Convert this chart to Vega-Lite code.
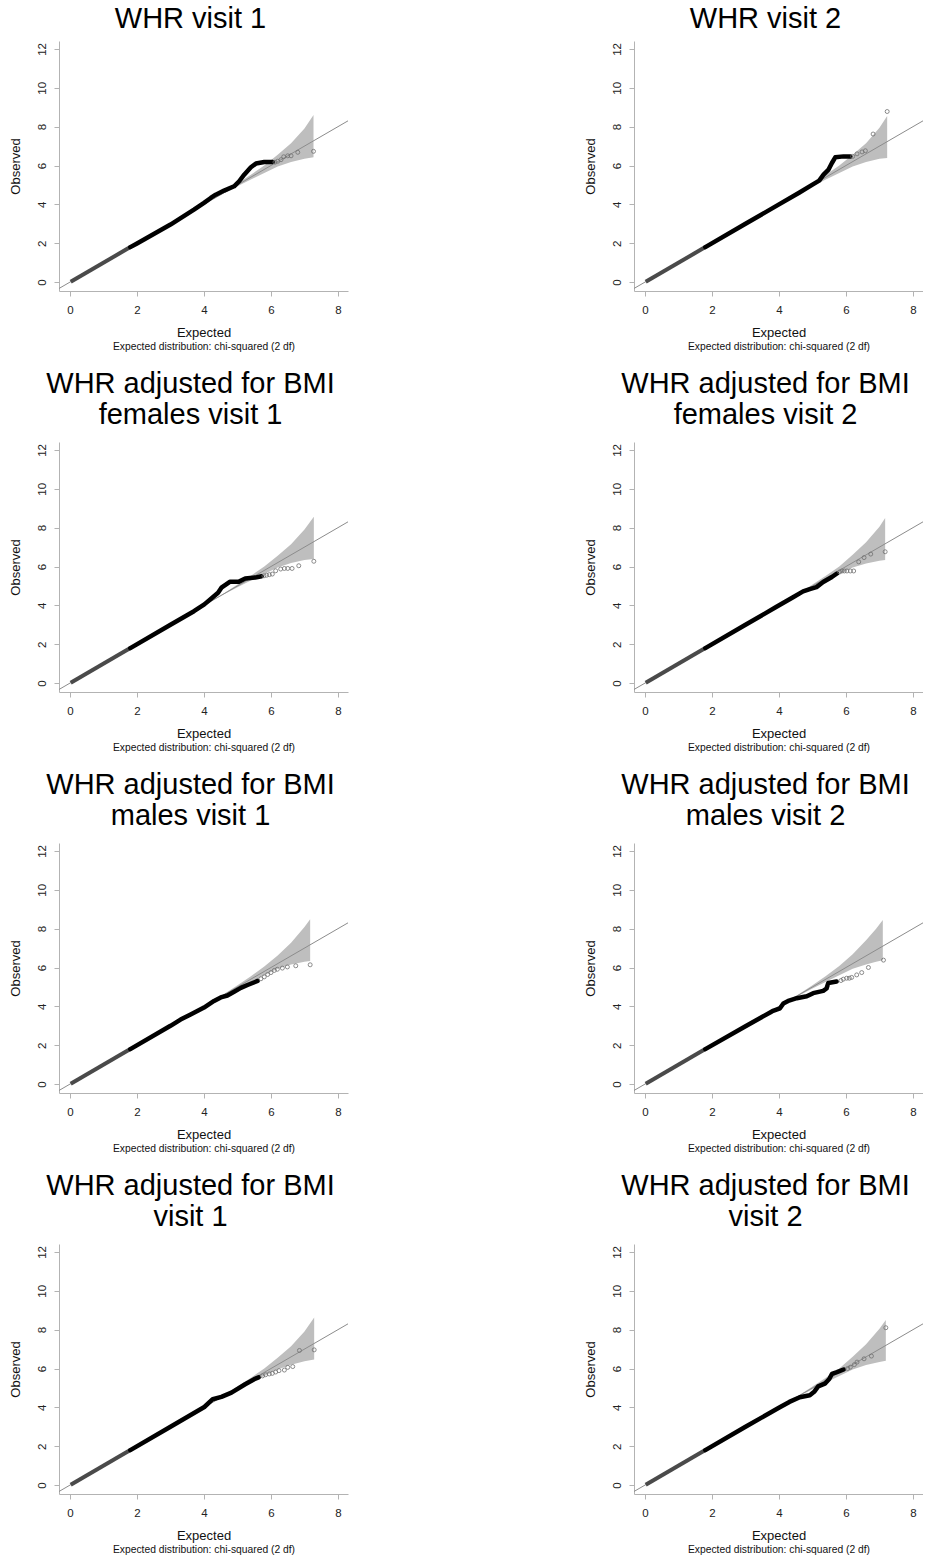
{
  "$schema": "https://vega.github.io/schema/vega-lite/v6.json",
  "background": "white",
  "padding": {"left": 8, "top": 5, "right": 0, "bottom": 0},
  "config": {
    "view": {"stroke": null},
    "font": "Liberation Sans",
    "axis": {
      "grid": false,
      "domainColor": "#b3b3b3",
      "tickColor": "#b3b3b3",
      "tickSize": 5,
      "labelColor": "#222222",
      "labelFont": "Liberation Sans",
      "labelFontSize": 11.5,
      "labelFlush": false,
      "labelOverlap": false,
      "titleFont": "Liberation Sans",
      "titleFontSize": 13,
      "titleFontWeight": "normal",
      "titleColor": "#111111"
    },
    "axisY": {"labelAngle": -90, "labelPadding": 7, "titlePadding": 14},
    "axisX": {"labelPadding": 8, "titlePadding": 11},
    "title": {
      "font": "Liberation Sans",
      "fontSize": 29,
      "fontWeight": "normal",
      "color": "#000000",
      "anchor": "middle",
      "frame": "group",
      "dx": -13,
      "lineHeight": 31,
      "offset": 12
    }
  },
  "datasets": {
    "diag": [{"x": -0.5, "y": -0.5}, {"x": 8.5, "y": 8.5}],
    "start": [{"x": 0.02, "y": 0.02}, {"x": 1.8, "y": 1.8}],
    "qq": [
      {"p": "p1", "k": "band", "x": 4.3, "lo": 4.29, "hi": 4.31},
      {"p": "p1", "k": "band", "x": 4.6, "lo": 4.57, "hi": 4.63},
      {"p": "p1", "k": "band", "x": 5.0, "lo": 4.93, "hi": 5.08},
      {"p": "p1", "k": "band", "x": 5.4, "lo": 5.28, "hi": 5.53},
      {"p": "p1", "k": "band", "x": 5.8, "lo": 5.62, "hi": 6.0},
      {"p": "p1", "k": "band", "x": 6.2, "lo": 5.95, "hi": 6.55},
      {"p": "p1", "k": "band", "x": 6.6, "lo": 6.18, "hi": 7.15},
      {"p": "p1", "k": "band", "x": 7.0, "lo": 6.35, "hi": 7.9},
      {"p": "p1", "k": "band", "x": 7.27, "lo": 6.42, "hi": 8.6},
      {"p": "p2", "k": "band", "x": 4.3, "lo": 4.29, "hi": 4.31},
      {"p": "p2", "k": "band", "x": 4.6, "lo": 4.57, "hi": 4.63},
      {"p": "p2", "k": "band", "x": 5.0, "lo": 4.93, "hi": 5.08},
      {"p": "p2", "k": "band", "x": 5.4, "lo": 5.28, "hi": 5.53},
      {"p": "p2", "k": "band", "x": 5.8, "lo": 5.62, "hi": 6.0},
      {"p": "p2", "k": "band", "x": 6.2, "lo": 5.95, "hi": 6.55},
      {"p": "p2", "k": "band", "x": 6.6, "lo": 6.18, "hi": 7.15},
      {"p": "p2", "k": "band", "x": 7.0, "lo": 6.35, "hi": 7.95},
      {"p": "p2", "k": "band", "x": 7.23, "lo": 6.39, "hi": 8.55},
      {"p": "p3", "k": "band", "x": 4.3, "lo": 4.29, "hi": 4.31},
      {"p": "p3", "k": "band", "x": 4.6, "lo": 4.57, "hi": 4.63},
      {"p": "p3", "k": "band", "x": 5.0, "lo": 4.93, "hi": 5.08},
      {"p": "p3", "k": "band", "x": 5.4, "lo": 5.28, "hi": 5.53},
      {"p": "p3", "k": "band", "x": 5.8, "lo": 5.62, "hi": 6.0},
      {"p": "p3", "k": "band", "x": 6.2, "lo": 5.95, "hi": 6.55},
      {"p": "p3", "k": "band", "x": 6.6, "lo": 6.18, "hi": 7.15},
      {"p": "p3", "k": "band", "x": 7.0, "lo": 6.33, "hi": 7.9},
      {"p": "p3", "k": "band", "x": 7.28, "lo": 6.39, "hi": 8.56},
      {"p": "p4", "k": "band", "x": 4.3, "lo": 4.29, "hi": 4.31},
      {"p": "p4", "k": "band", "x": 4.6, "lo": 4.57, "hi": 4.63},
      {"p": "p4", "k": "band", "x": 5.0, "lo": 4.93, "hi": 5.08},
      {"p": "p4", "k": "band", "x": 5.4, "lo": 5.28, "hi": 5.53},
      {"p": "p4", "k": "band", "x": 5.8, "lo": 5.62, "hi": 6.0},
      {"p": "p4", "k": "band", "x": 6.2, "lo": 5.95, "hi": 6.6},
      {"p": "p4", "k": "band", "x": 6.6, "lo": 6.16, "hi": 7.25},
      {"p": "p4", "k": "band", "x": 7.0, "lo": 6.3, "hi": 8.05},
      {"p": "p4", "k": "band", "x": 7.17, "lo": 6.33, "hi": 8.5},
      {"p": "p5", "k": "band", "x": 4.0, "lo": 3.99, "hi": 4.01},
      {"p": "p5", "k": "band", "x": 4.6, "lo": 4.56, "hi": 4.64},
      {"p": "p5", "k": "band", "x": 5.0, "lo": 4.92, "hi": 5.09},
      {"p": "p5", "k": "band", "x": 5.4, "lo": 5.27, "hi": 5.55},
      {"p": "p5", "k": "band", "x": 5.8, "lo": 5.6, "hi": 6.05},
      {"p": "p5", "k": "band", "x": 6.2, "lo": 5.93, "hi": 6.62},
      {"p": "p5", "k": "band", "x": 6.6, "lo": 6.15, "hi": 7.28},
      {"p": "p5", "k": "band", "x": 7.0, "lo": 6.3, "hi": 8.08},
      {"p": "p5", "k": "band", "x": 7.17, "lo": 6.34, "hi": 8.49},
      {"p": "p6", "k": "band", "x": 4.0, "lo": 3.99, "hi": 4.01},
      {"p": "p6", "k": "band", "x": 4.6, "lo": 4.56, "hi": 4.64},
      {"p": "p6", "k": "band", "x": 5.0, "lo": 4.92, "hi": 5.09},
      {"p": "p6", "k": "band", "x": 5.4, "lo": 5.27, "hi": 5.56},
      {"p": "p6", "k": "band", "x": 5.8, "lo": 5.6, "hi": 6.08},
      {"p": "p6", "k": "band", "x": 6.2, "lo": 5.93, "hi": 6.68},
      {"p": "p6", "k": "band", "x": 6.6, "lo": 6.15, "hi": 7.4},
      {"p": "p6", "k": "band", "x": 6.9, "lo": 6.3, "hi": 8.0},
      {"p": "p6", "k": "band", "x": 7.1, "lo": 6.38, "hi": 8.45},
      {"p": "p7", "k": "band", "x": 4.3, "lo": 4.29, "hi": 4.31},
      {"p": "p7", "k": "band", "x": 4.6, "lo": 4.57, "hi": 4.63},
      {"p": "p7", "k": "band", "x": 5.0, "lo": 4.93, "hi": 5.08},
      {"p": "p7", "k": "band", "x": 5.4, "lo": 5.28, "hi": 5.53},
      {"p": "p7", "k": "band", "x": 5.8, "lo": 5.62, "hi": 6.0},
      {"p": "p7", "k": "band", "x": 6.2, "lo": 5.95, "hi": 6.55},
      {"p": "p7", "k": "band", "x": 6.6, "lo": 6.2, "hi": 7.15},
      {"p": "p7", "k": "band", "x": 7.0, "lo": 6.38, "hi": 7.9},
      {"p": "p7", "k": "band", "x": 7.29, "lo": 6.46, "hi": 8.62},
      {"p": "p8", "k": "band", "x": 4.3, "lo": 4.29, "hi": 4.31},
      {"p": "p8", "k": "band", "x": 4.6, "lo": 4.57, "hi": 4.63},
      {"p": "p8", "k": "band", "x": 5.0, "lo": 4.93, "hi": 5.08},
      {"p": "p8", "k": "band", "x": 5.4, "lo": 5.28, "hi": 5.53},
      {"p": "p8", "k": "band", "x": 5.8, "lo": 5.62, "hi": 6.0},
      {"p": "p8", "k": "band", "x": 6.2, "lo": 5.95, "hi": 6.6},
      {"p": "p8", "k": "band", "x": 6.6, "lo": 6.18, "hi": 7.25},
      {"p": "p8", "k": "band", "x": 7.0, "lo": 6.33, "hi": 8.05},
      {"p": "p8", "k": "band", "x": 7.19, "lo": 6.4, "hi": 8.5},

      {"p": "p1", "k": "line", "x": 1.8, "y": 1.8},
      {"p": "p1", "k": "line", "x": 2.0, "y": 1.99},
      {"p": "p1", "k": "line", "x": 3.0, "y": 2.96},
      {"p": "p1", "k": "line", "x": 3.7, "y": 3.73},
      {"p": "p1", "k": "line", "x": 4.0, "y": 4.08},
      {"p": "p1", "k": "line", "x": 4.2, "y": 4.33},
      {"p": "p1", "k": "line", "x": 4.35, "y": 4.5},
      {"p": "p1", "k": "line", "x": 4.6, "y": 4.71},
      {"p": "p1", "k": "line", "x": 4.9, "y": 4.93},
      {"p": "p1", "k": "line", "x": 5.05, "y": 5.19},
      {"p": "p1", "k": "line", "x": 5.2, "y": 5.53},
      {"p": "p1", "k": "line", "x": 5.4, "y": 5.91},
      {"p": "p1", "k": "line", "x": 5.55, "y": 6.1},
      {"p": "p1", "k": "line", "x": 5.8, "y": 6.18},
      {"p": "p1", "k": "line", "x": 6.05, "y": 6.18},
      {"p": "p1", "k": "pt", "x": 6.12, "y": 6.17},
      {"p": "p1", "k": "pt", "x": 6.2, "y": 6.22},
      {"p": "p1", "k": "pt", "x": 6.3, "y": 6.3},
      {"p": "p1", "k": "pt", "x": 6.38, "y": 6.45},
      {"p": "p1", "k": "pt", "x": 6.5, "y": 6.5},
      {"p": "p1", "k": "pt", "x": 6.6, "y": 6.5},
      {"p": "p1", "k": "pt", "x": 6.8, "y": 6.68},
      {"p": "p1", "k": "pt", "x": 7.27, "y": 6.73},

      {"p": "p2", "k": "line", "x": 1.8, "y": 1.8},
      {"p": "p2", "k": "line", "x": 3.0, "y": 3.0},
      {"p": "p2", "k": "line", "x": 4.0, "y": 4.0},
      {"p": "p2", "k": "line", "x": 4.6, "y": 4.6},
      {"p": "p2", "k": "line", "x": 5.0, "y": 5.02},
      {"p": "p2", "k": "line", "x": 5.2, "y": 5.22},
      {"p": "p2", "k": "line", "x": 5.33, "y": 5.53},
      {"p": "p2", "k": "line", "x": 5.48, "y": 5.79},
      {"p": "p2", "k": "line", "x": 5.58, "y": 6.13},
      {"p": "p2", "k": "line", "x": 5.68, "y": 6.42},
      {"p": "p2", "k": "line", "x": 5.93, "y": 6.47},
      {"p": "p2", "k": "line", "x": 6.13, "y": 6.47},
      {"p": "p2", "k": "pt", "x": 6.2, "y": 6.47},
      {"p": "p2", "k": "pt", "x": 6.33, "y": 6.6},
      {"p": "p2", "k": "pt", "x": 6.48, "y": 6.7},
      {"p": "p2", "k": "pt", "x": 6.58, "y": 6.76},
      {"p": "p2", "k": "pt", "x": 6.81, "y": 7.62},
      {"p": "p2", "k": "pt", "x": 7.23, "y": 8.78},

      {"p": "p3", "k": "line", "x": 1.8, "y": 1.8},
      {"p": "p3", "k": "line", "x": 3.0, "y": 3.0},
      {"p": "p3", "k": "line", "x": 3.7, "y": 3.7},
      {"p": "p3", "k": "line", "x": 4.01, "y": 4.05},
      {"p": "p3", "k": "line", "x": 4.21, "y": 4.34},
      {"p": "p3", "k": "line", "x": 4.42, "y": 4.65},
      {"p": "p3", "k": "line", "x": 4.52, "y": 4.91},
      {"p": "p3", "k": "line", "x": 4.77, "y": 5.21},
      {"p": "p3", "k": "line", "x": 5.03, "y": 5.21},
      {"p": "p3", "k": "line", "x": 5.23, "y": 5.38},
      {"p": "p3", "k": "line", "x": 5.53, "y": 5.43},
      {"p": "p3", "k": "line", "x": 5.72, "y": 5.5},
      {"p": "p3", "k": "pt", "x": 5.79, "y": 5.52},
      {"p": "p3", "k": "pt", "x": 5.87, "y": 5.55},
      {"p": "p3", "k": "pt", "x": 5.95, "y": 5.58},
      {"p": "p3", "k": "pt", "x": 6.04, "y": 5.61},
      {"p": "p3", "k": "pt", "x": 6.14, "y": 5.78},
      {"p": "p3", "k": "pt", "x": 6.29, "y": 5.87},
      {"p": "p3", "k": "pt", "x": 6.4, "y": 5.9},
      {"p": "p3", "k": "pt", "x": 6.5, "y": 5.9},
      {"p": "p3", "k": "pt", "x": 6.63, "y": 5.9},
      {"p": "p3", "k": "pt", "x": 6.83, "y": 6.04},
      {"p": "p3", "k": "pt", "x": 7.28, "y": 6.27},

      {"p": "p4", "k": "line", "x": 1.8, "y": 1.8},
      {"p": "p4", "k": "line", "x": 3.0, "y": 3.0},
      {"p": "p4", "k": "line", "x": 3.9, "y": 3.9},
      {"p": "p4", "k": "line", "x": 4.42, "y": 4.42},
      {"p": "p4", "k": "line", "x": 4.72, "y": 4.72},
      {"p": "p4", "k": "line", "x": 4.92, "y": 4.84},
      {"p": "p4", "k": "line", "x": 5.12, "y": 4.94},
      {"p": "p4", "k": "line", "x": 5.32, "y": 5.2},
      {"p": "p4", "k": "line", "x": 5.58, "y": 5.46},
      {"p": "p4", "k": "line", "x": 5.73, "y": 5.64},
      {"p": "p4", "k": "pt", "x": 5.81, "y": 5.72},
      {"p": "p4", "k": "pt", "x": 5.88, "y": 5.77},
      {"p": "p4", "k": "pt", "x": 5.95, "y": 5.77},
      {"p": "p4", "k": "pt", "x": 6.03, "y": 5.77},
      {"p": "p4", "k": "pt", "x": 6.13, "y": 5.77},
      {"p": "p4", "k": "pt", "x": 6.23, "y": 5.77},
      {"p": "p4", "k": "pt", "x": 6.38, "y": 6.24},
      {"p": "p4", "k": "pt", "x": 6.54, "y": 6.46},
      {"p": "p4", "k": "pt", "x": 6.74, "y": 6.64},
      {"p": "p4", "k": "pt", "x": 7.17, "y": 6.76},

      {"p": "p5", "k": "line", "x": 1.8, "y": 1.8},
      {"p": "p5", "k": "line", "x": 3.0, "y": 3.0},
      {"p": "p5", "k": "line", "x": 3.3, "y": 3.32},
      {"p": "p5", "k": "line", "x": 3.6, "y": 3.58},
      {"p": "p5", "k": "line", "x": 4.0, "y": 3.94},
      {"p": "p5", "k": "line", "x": 4.3, "y": 4.28},
      {"p": "p5", "k": "line", "x": 4.5, "y": 4.46},
      {"p": "p5", "k": "line", "x": 4.7, "y": 4.56},
      {"p": "p5", "k": "line", "x": 4.9, "y": 4.75},
      {"p": "p5", "k": "line", "x": 5.1, "y": 4.95},
      {"p": "p5", "k": "line", "x": 5.3, "y": 5.1},
      {"p": "p5", "k": "line", "x": 5.6, "y": 5.31},
      {"p": "p5", "k": "pt", "x": 5.7, "y": 5.42},
      {"p": "p5", "k": "pt", "x": 5.8, "y": 5.52},
      {"p": "p5", "k": "pt", "x": 5.9, "y": 5.64},
      {"p": "p5", "k": "pt", "x": 6.0, "y": 5.74},
      {"p": "p5", "k": "pt", "x": 6.1, "y": 5.85},
      {"p": "p5", "k": "pt", "x": 6.19, "y": 5.91},
      {"p": "p5", "k": "pt", "x": 6.34, "y": 5.97},
      {"p": "p5", "k": "pt", "x": 6.49, "y": 6.03},
      {"p": "p5", "k": "pt", "x": 6.74, "y": 6.09},
      {"p": "p5", "k": "pt", "x": 7.17, "y": 6.14},

      {"p": "p6", "k": "line", "x": 1.8, "y": 1.8},
      {"p": "p6", "k": "line", "x": 3.0, "y": 2.98},
      {"p": "p6", "k": "line", "x": 3.8, "y": 3.75},
      {"p": "p6", "k": "line", "x": 4.03, "y": 3.9},
      {"p": "p6", "k": "line", "x": 4.13, "y": 4.15},
      {"p": "p6", "k": "line", "x": 4.3, "y": 4.3},
      {"p": "p6", "k": "line", "x": 4.53, "y": 4.42},
      {"p": "p6", "k": "line", "x": 4.83, "y": 4.52},
      {"p": "p6", "k": "line", "x": 5.02, "y": 4.68},
      {"p": "p6", "k": "line", "x": 5.32, "y": 4.8},
      {"p": "p6", "k": "line", "x": 5.42, "y": 4.92},
      {"p": "p6", "k": "line", "x": 5.47, "y": 5.2},
      {"p": "p6", "k": "line", "x": 5.72, "y": 5.28},
      {"p": "p6", "k": "pt", "x": 5.85, "y": 5.33},
      {"p": "p6", "k": "pt", "x": 5.92, "y": 5.4},
      {"p": "p6", "k": "pt", "x": 6.02, "y": 5.45},
      {"p": "p6", "k": "pt", "x": 6.1, "y": 5.45},
      {"p": "p6", "k": "pt", "x": 6.17, "y": 5.49},
      {"p": "p6", "k": "pt", "x": 6.32, "y": 5.62},
      {"p": "p6", "k": "pt", "x": 6.47, "y": 5.74},
      {"p": "p6", "k": "pt", "x": 6.67, "y": 6.0},
      {"p": "p6", "k": "pt", "x": 7.12, "y": 6.38},

      {"p": "p7", "k": "line", "x": 1.8, "y": 1.8},
      {"p": "p7", "k": "line", "x": 3.0, "y": 3.0},
      {"p": "p7", "k": "line", "x": 4.01, "y": 4.02},
      {"p": "p7", "k": "line", "x": 4.26, "y": 4.42},
      {"p": "p7", "k": "line", "x": 4.52, "y": 4.54},
      {"p": "p7", "k": "line", "x": 4.82, "y": 4.76},
      {"p": "p7", "k": "line", "x": 5.23, "y": 5.19},
      {"p": "p7", "k": "line", "x": 5.5, "y": 5.45},
      {"p": "p7", "k": "line", "x": 5.63, "y": 5.54},
      {"p": "p7", "k": "pt", "x": 5.75, "y": 5.62},
      {"p": "p7", "k": "pt", "x": 5.84, "y": 5.68},
      {"p": "p7", "k": "pt", "x": 5.95, "y": 5.72},
      {"p": "p7", "k": "pt", "x": 6.04, "y": 5.75},
      {"p": "p7", "k": "pt", "x": 6.14, "y": 5.82},
      {"p": "p7", "k": "pt", "x": 6.24, "y": 5.89},
      {"p": "p7", "k": "pt", "x": 6.4, "y": 5.92},
      {"p": "p7", "k": "pt", "x": 6.5, "y": 6.06},
      {"p": "p7", "k": "pt", "x": 6.65, "y": 6.1},
      {"p": "p7", "k": "pt", "x": 6.85, "y": 6.93},
      {"p": "p7", "k": "pt", "x": 7.29, "y": 6.96},

      {"p": "p8", "k": "line", "x": 1.8, "y": 1.8},
      {"p": "p8", "k": "line", "x": 3.0, "y": 3.0},
      {"p": "p8", "k": "line", "x": 4.01, "y": 3.99},
      {"p": "p8", "k": "line", "x": 4.31, "y": 4.28},
      {"p": "p8", "k": "line", "x": 4.62, "y": 4.52},
      {"p": "p8", "k": "line", "x": 4.92, "y": 4.62},
      {"p": "p8", "k": "line", "x": 5.05, "y": 4.8},
      {"p": "p8", "k": "line", "x": 5.17, "y": 5.08},
      {"p": "p8", "k": "line", "x": 5.37, "y": 5.22},
      {"p": "p8", "k": "line", "x": 5.5, "y": 5.46},
      {"p": "p8", "k": "line", "x": 5.58, "y": 5.72},
      {"p": "p8", "k": "line", "x": 5.73, "y": 5.81},
      {"p": "p8", "k": "line", "x": 5.93, "y": 5.95},
      {"p": "p8", "k": "pt", "x": 6.05, "y": 6.0},
      {"p": "p8", "k": "pt", "x": 6.13, "y": 6.07},
      {"p": "p8", "k": "pt", "x": 6.25, "y": 6.2},
      {"p": "p8", "k": "pt", "x": 6.33, "y": 6.33},
      {"p": "p8", "k": "pt", "x": 6.54, "y": 6.5},
      {"p": "p8", "k": "pt", "x": 6.76, "y": 6.64},
      {"p": "p8", "k": "pt", "x": 7.19, "y": 8.1}
    ]
  },
  "spacing": 18,
  "vconcat": [
    {
      "spacing": 235,
      "hconcat": [
        {
          "title": {"text": "WHR visit 1", "offset": 7},
          "width": 289, "height": 250,
          "resolve": {"axis": {"x": "independent"}},
          "layer": [
            {"data": {"name": "qq"}, "transform": [{"filter": "datum.p === 'p1' && datum.k === 'band'"}], "mark": {"type": "area", "color": "#bebebe", "opacity": 1}, "encoding": {"x": {"field": "x", "type": "quantitative", "scale": {"domain": [-0.33, 8.3], "nice": false, "zero": false}, "axis": null}, "y": {"field": "hi", "type": "quantitative", "scale": {"domain": [-0.46, 12.41], "nice": false, "zero": false}, "axis": {"title": "Observed", "values": [0, 2, 4, 6, 8, 10, 12]}}, "y2": {"field": "lo"}}},
            {"data": {"name": "diag"}, "mark": {"type": "line", "color": "#8c8c8c", "strokeWidth": 1, "clip": true}, "encoding": {"x": {"field": "x", "type": "quantitative", "scale": {"domain": [-0.33, 8.3], "nice": false, "zero": false}, "axis": {"orient": "bottom", "title": "Expected distribution: chi-squared (2 df)", "titleFontSize": 10.3, "labels": false, "ticks": false, "domain": false, "titlePadding": 50}}, "y": {"field": "y", "type": "quantitative", "scale": {"domain": [-0.46, 12.41], "nice": false, "zero": false}, "axis": {"title": "Observed", "values": [0, 2, 4, 6, 8, 10, 12]}}}},
            {"data": {"name": "start"}, "mark": {"type": "line", "color": "#4a4a4a", "strokeWidth": 4}, "encoding": {"x": {"field": "x", "type": "quantitative", "axis": null}, "y": {"field": "y", "type": "quantitative", "axis": {"title": "Observed", "values": [0, 2, 4, 6, 8, 10, 12]}}}},
            {"data": {"name": "qq"}, "transform": [{"filter": "datum.p === 'p1' && datum.k === 'line'"}], "mark": {"type": "line", "color": "#000000", "strokeWidth": 4.5, "strokeCap": "round", "strokeJoin": "round"}, "encoding": {"x": {"field": "x", "type": "quantitative", "axis": {"orient": "bottom", "title": "Expected", "values": [0, 2, 4, 6, 8]}}, "y": {"field": "y", "type": "quantitative", "axis": {"title": "Observed", "values": [0, 2, 4, 6, 8, 10, 12]}}}},
            {"data": {"name": "qq"}, "transform": [{"filter": "datum.p === 'p1' && datum.k === 'pt'"}], "mark": {"type": "point", "filled": false, "color": "#707070", "size": 16, "strokeWidth": 0.8, "opacity": 1}, "encoding": {"x": {"field": "x", "type": "quantitative", "axis": null}, "y": {"field": "y", "type": "quantitative", "axis": {"title": "Observed", "values": [0, 2, 4, 6, 8, 10, 12]}}}}
          ]
        },
        {
          "title": {"text": "WHR visit 2", "offset": 7},
          "width": 289, "height": 250,
          "resolve": {"axis": {"x": "independent"}},
          "layer": [
            {"data": {"name": "qq"}, "transform": [{"filter": "datum.p === 'p2' && datum.k === 'band'"}], "mark": {"type": "area", "color": "#bebebe", "opacity": 1}, "encoding": {"x": {"field": "x", "type": "quantitative", "scale": {"domain": [-0.33, 8.3], "nice": false, "zero": false}, "axis": null}, "y": {"field": "hi", "type": "quantitative", "scale": {"domain": [-0.46, 12.41], "nice": false, "zero": false}, "axis": {"title": "Observed", "values": [0, 2, 4, 6, 8, 10, 12]}}, "y2": {"field": "lo"}}},
            {"data": {"name": "diag"}, "mark": {"type": "line", "color": "#8c8c8c", "strokeWidth": 1, "clip": true}, "encoding": {"x": {"field": "x", "type": "quantitative", "scale": {"domain": [-0.33, 8.3], "nice": false, "zero": false}, "axis": {"orient": "bottom", "title": "Expected distribution: chi-squared (2 df)", "titleFontSize": 10.3, "labels": false, "ticks": false, "domain": false, "titlePadding": 50}}, "y": {"field": "y", "type": "quantitative", "scale": {"domain": [-0.46, 12.41], "nice": false, "zero": false}, "axis": {"title": "Observed", "values": [0, 2, 4, 6, 8, 10, 12]}}}},
            {"data": {"name": "start"}, "mark": {"type": "line", "color": "#4a4a4a", "strokeWidth": 4}, "encoding": {"x": {"field": "x", "type": "quantitative", "axis": null}, "y": {"field": "y", "type": "quantitative", "axis": {"title": "Observed", "values": [0, 2, 4, 6, 8, 10, 12]}}}},
            {"data": {"name": "qq"}, "transform": [{"filter": "datum.p === 'p2' && datum.k === 'line'"}], "mark": {"type": "line", "color": "#000000", "strokeWidth": 4.5, "strokeCap": "round", "strokeJoin": "round"}, "encoding": {"x": {"field": "x", "type": "quantitative", "axis": {"orient": "bottom", "title": "Expected", "values": [0, 2, 4, 6, 8]}}, "y": {"field": "y", "type": "quantitative", "axis": {"title": "Observed", "values": [0, 2, 4, 6, 8, 10, 12]}}}},
            {"data": {"name": "qq"}, "transform": [{"filter": "datum.p === 'p2' && datum.k === 'pt'"}], "mark": {"type": "point", "filled": false, "color": "#707070", "size": 16, "strokeWidth": 0.8, "opacity": 1}, "encoding": {"x": {"field": "x", "type": "quantitative", "axis": null}, "y": {"field": "y", "type": "quantitative", "axis": {"title": "Observed", "values": [0, 2, 4, 6, 8, 10, 12]}}}}
          ]
        }
      ]
    },
    {
      "spacing": 235,
      "hconcat": [
        {
          "title": {"text": ["WHR adjusted for BMI", "females visit 1"]},
          "width": 289, "height": 250,
          "resolve": {"axis": {"x": "independent"}},
          "layer": [
            {"data": {"name": "qq"}, "transform": [{"filter": "datum.p === 'p3' && datum.k === 'band'"}], "mark": {"type": "area", "color": "#bebebe", "opacity": 1}, "encoding": {"x": {"field": "x", "type": "quantitative", "scale": {"domain": [-0.33, 8.3], "nice": false, "zero": false}, "axis": null}, "y": {"field": "hi", "type": "quantitative", "scale": {"domain": [-0.46, 12.41], "nice": false, "zero": false}, "axis": {"title": "Observed", "values": [0, 2, 4, 6, 8, 10, 12]}}, "y2": {"field": "lo"}}},
            {"data": {"name": "diag"}, "mark": {"type": "line", "color": "#8c8c8c", "strokeWidth": 1, "clip": true}, "encoding": {"x": {"field": "x", "type": "quantitative", "scale": {"domain": [-0.33, 8.3], "nice": false, "zero": false}, "axis": {"orient": "bottom", "title": "Expected distribution: chi-squared (2 df)", "titleFontSize": 10.3, "labels": false, "ticks": false, "domain": false, "titlePadding": 50}}, "y": {"field": "y", "type": "quantitative", "scale": {"domain": [-0.46, 12.41], "nice": false, "zero": false}, "axis": {"title": "Observed", "values": [0, 2, 4, 6, 8, 10, 12]}}}},
            {"data": {"name": "start"}, "mark": {"type": "line", "color": "#4a4a4a", "strokeWidth": 4}, "encoding": {"x": {"field": "x", "type": "quantitative", "axis": null}, "y": {"field": "y", "type": "quantitative", "axis": {"title": "Observed", "values": [0, 2, 4, 6, 8, 10, 12]}}}},
            {"data": {"name": "qq"}, "transform": [{"filter": "datum.p === 'p3' && datum.k === 'line'"}], "mark": {"type": "line", "color": "#000000", "strokeWidth": 4.5, "strokeCap": "round", "strokeJoin": "round"}, "encoding": {"x": {"field": "x", "type": "quantitative", "axis": {"orient": "bottom", "title": "Expected", "values": [0, 2, 4, 6, 8]}}, "y": {"field": "y", "type": "quantitative", "axis": {"title": "Observed", "values": [0, 2, 4, 6, 8, 10, 12]}}}},
            {"data": {"name": "qq"}, "transform": [{"filter": "datum.p === 'p3' && datum.k === 'pt'"}], "mark": {"type": "point", "filled": false, "color": "#707070", "size": 16, "strokeWidth": 0.8, "opacity": 1}, "encoding": {"x": {"field": "x", "type": "quantitative", "axis": null}, "y": {"field": "y", "type": "quantitative", "axis": {"title": "Observed", "values": [0, 2, 4, 6, 8, 10, 12]}}}}
          ]
        },
        {
          "title": {"text": ["WHR adjusted for BMI", "females visit 2"]},
          "width": 289, "height": 250,
          "resolve": {"axis": {"x": "independent"}},
          "layer": [
            {"data": {"name": "qq"}, "transform": [{"filter": "datum.p === 'p4' && datum.k === 'band'"}], "mark": {"type": "area", "color": "#bebebe", "opacity": 1}, "encoding": {"x": {"field": "x", "type": "quantitative", "scale": {"domain": [-0.33, 8.3], "nice": false, "zero": false}, "axis": null}, "y": {"field": "hi", "type": "quantitative", "scale": {"domain": [-0.46, 12.41], "nice": false, "zero": false}, "axis": {"title": "Observed", "values": [0, 2, 4, 6, 8, 10, 12]}}, "y2": {"field": "lo"}}},
            {"data": {"name": "diag"}, "mark": {"type": "line", "color": "#8c8c8c", "strokeWidth": 1, "clip": true}, "encoding": {"x": {"field": "x", "type": "quantitative", "scale": {"domain": [-0.33, 8.3], "nice": false, "zero": false}, "axis": {"orient": "bottom", "title": "Expected distribution: chi-squared (2 df)", "titleFontSize": 10.3, "labels": false, "ticks": false, "domain": false, "titlePadding": 50}}, "y": {"field": "y", "type": "quantitative", "scale": {"domain": [-0.46, 12.41], "nice": false, "zero": false}, "axis": {"title": "Observed", "values": [0, 2, 4, 6, 8, 10, 12]}}}},
            {"data": {"name": "start"}, "mark": {"type": "line", "color": "#4a4a4a", "strokeWidth": 4}, "encoding": {"x": {"field": "x", "type": "quantitative", "axis": null}, "y": {"field": "y", "type": "quantitative", "axis": {"title": "Observed", "values": [0, 2, 4, 6, 8, 10, 12]}}}},
            {"data": {"name": "qq"}, "transform": [{"filter": "datum.p === 'p4' && datum.k === 'line'"}], "mark": {"type": "line", "color": "#000000", "strokeWidth": 4.5, "strokeCap": "round", "strokeJoin": "round"}, "encoding": {"x": {"field": "x", "type": "quantitative", "axis": {"orient": "bottom", "title": "Expected", "values": [0, 2, 4, 6, 8]}}, "y": {"field": "y", "type": "quantitative", "axis": {"title": "Observed", "values": [0, 2, 4, 6, 8, 10, 12]}}}},
            {"data": {"name": "qq"}, "transform": [{"filter": "datum.p === 'p4' && datum.k === 'pt'"}], "mark": {"type": "point", "filled": false, "color": "#707070", "size": 16, "strokeWidth": 0.8, "opacity": 1}, "encoding": {"x": {"field": "x", "type": "quantitative", "axis": null}, "y": {"field": "y", "type": "quantitative", "axis": {"title": "Observed", "values": [0, 2, 4, 6, 8, 10, 12]}}}}
          ]
        }
      ]
    },
    {
      "spacing": 235,
      "hconcat": [
        {
          "title": {"text": ["WHR adjusted for BMI", "males visit 1"]},
          "width": 289, "height": 250,
          "resolve": {"axis": {"x": "independent"}},
          "layer": [
            {"data": {"name": "qq"}, "transform": [{"filter": "datum.p === 'p5' && datum.k === 'band'"}], "mark": {"type": "area", "color": "#bebebe", "opacity": 1}, "encoding": {"x": {"field": "x", "type": "quantitative", "scale": {"domain": [-0.33, 8.3], "nice": false, "zero": false}, "axis": null}, "y": {"field": "hi", "type": "quantitative", "scale": {"domain": [-0.46, 12.41], "nice": false, "zero": false}, "axis": {"title": "Observed", "values": [0, 2, 4, 6, 8, 10, 12]}}, "y2": {"field": "lo"}}},
            {"data": {"name": "diag"}, "mark": {"type": "line", "color": "#8c8c8c", "strokeWidth": 1, "clip": true}, "encoding": {"x": {"field": "x", "type": "quantitative", "scale": {"domain": [-0.33, 8.3], "nice": false, "zero": false}, "axis": {"orient": "bottom", "title": "Expected distribution: chi-squared (2 df)", "titleFontSize": 10.3, "labels": false, "ticks": false, "domain": false, "titlePadding": 50}}, "y": {"field": "y", "type": "quantitative", "scale": {"domain": [-0.46, 12.41], "nice": false, "zero": false}, "axis": {"title": "Observed", "values": [0, 2, 4, 6, 8, 10, 12]}}}},
            {"data": {"name": "start"}, "mark": {"type": "line", "color": "#4a4a4a", "strokeWidth": 4}, "encoding": {"x": {"field": "x", "type": "quantitative", "axis": null}, "y": {"field": "y", "type": "quantitative", "axis": {"title": "Observed", "values": [0, 2, 4, 6, 8, 10, 12]}}}},
            {"data": {"name": "qq"}, "transform": [{"filter": "datum.p === 'p5' && datum.k === 'line'"}], "mark": {"type": "line", "color": "#000000", "strokeWidth": 4.5, "strokeCap": "round", "strokeJoin": "round"}, "encoding": {"x": {"field": "x", "type": "quantitative", "axis": {"orient": "bottom", "title": "Expected", "values": [0, 2, 4, 6, 8]}}, "y": {"field": "y", "type": "quantitative", "axis": {"title": "Observed", "values": [0, 2, 4, 6, 8, 10, 12]}}}},
            {"data": {"name": "qq"}, "transform": [{"filter": "datum.p === 'p5' && datum.k === 'pt'"}], "mark": {"type": "point", "filled": false, "color": "#707070", "size": 16, "strokeWidth": 0.8, "opacity": 1}, "encoding": {"x": {"field": "x", "type": "quantitative", "axis": null}, "y": {"field": "y", "type": "quantitative", "axis": {"title": "Observed", "values": [0, 2, 4, 6, 8, 10, 12]}}}}
          ]
        },
        {
          "title": {"text": ["WHR adjusted for BMI", "males visit 2"]},
          "width": 289, "height": 250,
          "resolve": {"axis": {"x": "independent"}},
          "layer": [
            {"data": {"name": "qq"}, "transform": [{"filter": "datum.p === 'p6' && datum.k === 'band'"}], "mark": {"type": "area", "color": "#bebebe", "opacity": 1}, "encoding": {"x": {"field": "x", "type": "quantitative", "scale": {"domain": [-0.33, 8.3], "nice": false, "zero": false}, "axis": null}, "y": {"field": "hi", "type": "quantitative", "scale": {"domain": [-0.46, 12.41], "nice": false, "zero": false}, "axis": {"title": "Observed", "values": [0, 2, 4, 6, 8, 10, 12]}}, "y2": {"field": "lo"}}},
            {"data": {"name": "diag"}, "mark": {"type": "line", "color": "#8c8c8c", "strokeWidth": 1, "clip": true}, "encoding": {"x": {"field": "x", "type": "quantitative", "scale": {"domain": [-0.33, 8.3], "nice": false, "zero": false}, "axis": {"orient": "bottom", "title": "Expected distribution: chi-squared (2 df)", "titleFontSize": 10.3, "labels": false, "ticks": false, "domain": false, "titlePadding": 50}}, "y": {"field": "y", "type": "quantitative", "scale": {"domain": [-0.46, 12.41], "nice": false, "zero": false}, "axis": {"title": "Observed", "values": [0, 2, 4, 6, 8, 10, 12]}}}},
            {"data": {"name": "start"}, "mark": {"type": "line", "color": "#4a4a4a", "strokeWidth": 4}, "encoding": {"x": {"field": "x", "type": "quantitative", "axis": null}, "y": {"field": "y", "type": "quantitative", "axis": {"title": "Observed", "values": [0, 2, 4, 6, 8, 10, 12]}}}},
            {"data": {"name": "qq"}, "transform": [{"filter": "datum.p === 'p6' && datum.k === 'line'"}], "mark": {"type": "line", "color": "#000000", "strokeWidth": 4.5, "strokeCap": "round", "strokeJoin": "round"}, "encoding": {"x": {"field": "x", "type": "quantitative", "axis": {"orient": "bottom", "title": "Expected", "values": [0, 2, 4, 6, 8]}}, "y": {"field": "y", "type": "quantitative", "axis": {"title": "Observed", "values": [0, 2, 4, 6, 8, 10, 12]}}}},
            {"data": {"name": "qq"}, "transform": [{"filter": "datum.p === 'p6' && datum.k === 'pt'"}], "mark": {"type": "point", "filled": false, "color": "#707070", "size": 16, "strokeWidth": 0.8, "opacity": 1}, "encoding": {"x": {"field": "x", "type": "quantitative", "axis": null}, "y": {"field": "y", "type": "quantitative", "axis": {"title": "Observed", "values": [0, 2, 4, 6, 8, 10, 12]}}}}
          ]
        }
      ]
    },
    {
      "spacing": 235,
      "hconcat": [
        {
          "title": {"text": ["WHR adjusted for BMI", "visit 1"]},
          "width": 289, "height": 250,
          "resolve": {"axis": {"x": "independent"}},
          "layer": [
            {"data": {"name": "qq"}, "transform": [{"filter": "datum.p === 'p7' && datum.k === 'band'"}], "mark": {"type": "area", "color": "#bebebe", "opacity": 1}, "encoding": {"x": {"field": "x", "type": "quantitative", "scale": {"domain": [-0.33, 8.3], "nice": false, "zero": false}, "axis": null}, "y": {"field": "hi", "type": "quantitative", "scale": {"domain": [-0.46, 12.41], "nice": false, "zero": false}, "axis": {"title": "Observed", "values": [0, 2, 4, 6, 8, 10, 12]}}, "y2": {"field": "lo"}}},
            {"data": {"name": "diag"}, "mark": {"type": "line", "color": "#8c8c8c", "strokeWidth": 1, "clip": true}, "encoding": {"x": {"field": "x", "type": "quantitative", "scale": {"domain": [-0.33, 8.3], "nice": false, "zero": false}, "axis": {"orient": "bottom", "title": "Expected distribution: chi-squared (2 df)", "titleFontSize": 10.3, "labels": false, "ticks": false, "domain": false, "titlePadding": 50}}, "y": {"field": "y", "type": "quantitative", "scale": {"domain": [-0.46, 12.41], "nice": false, "zero": false}, "axis": {"title": "Observed", "values": [0, 2, 4, 6, 8, 10, 12]}}}},
            {"data": {"name": "start"}, "mark": {"type": "line", "color": "#4a4a4a", "strokeWidth": 4}, "encoding": {"x": {"field": "x", "type": "quantitative", "axis": null}, "y": {"field": "y", "type": "quantitative", "axis": {"title": "Observed", "values": [0, 2, 4, 6, 8, 10, 12]}}}},
            {"data": {"name": "qq"}, "transform": [{"filter": "datum.p === 'p7' && datum.k === 'line'"}], "mark": {"type": "line", "color": "#000000", "strokeWidth": 4.5, "strokeCap": "round", "strokeJoin": "round"}, "encoding": {"x": {"field": "x", "type": "quantitative", "axis": {"orient": "bottom", "title": "Expected", "values": [0, 2, 4, 6, 8]}}, "y": {"field": "y", "type": "quantitative", "axis": {"title": "Observed", "values": [0, 2, 4, 6, 8, 10, 12]}}}},
            {"data": {"name": "qq"}, "transform": [{"filter": "datum.p === 'p7' && datum.k === 'pt'"}], "mark": {"type": "point", "filled": false, "color": "#707070", "size": 16, "strokeWidth": 0.8, "opacity": 1}, "encoding": {"x": {"field": "x", "type": "quantitative", "axis": null}, "y": {"field": "y", "type": "quantitative", "axis": {"title": "Observed", "values": [0, 2, 4, 6, 8, 10, 12]}}}}
          ]
        },
        {
          "title": {"text": ["WHR adjusted for BMI", "visit 2"]},
          "width": 289, "height": 250,
          "resolve": {"axis": {"x": "independent"}},
          "layer": [
            {"data": {"name": "qq"}, "transform": [{"filter": "datum.p === 'p8' && datum.k === 'band'"}], "mark": {"type": "area", "color": "#bebebe", "opacity": 1}, "encoding": {"x": {"field": "x", "type": "quantitative", "scale": {"domain": [-0.33, 8.3], "nice": false, "zero": false}, "axis": null}, "y": {"field": "hi", "type": "quantitative", "scale": {"domain": [-0.46, 12.41], "nice": false, "zero": false}, "axis": {"title": "Observed", "values": [0, 2, 4, 6, 8, 10, 12]}}, "y2": {"field": "lo"}}},
            {"data": {"name": "diag"}, "mark": {"type": "line", "color": "#8c8c8c", "strokeWidth": 1, "clip": true}, "encoding": {"x": {"field": "x", "type": "quantitative", "scale": {"domain": [-0.33, 8.3], "nice": false, "zero": false}, "axis": {"orient": "bottom", "title": "Expected distribution: chi-squared (2 df)", "titleFontSize": 10.3, "labels": false, "ticks": false, "domain": false, "titlePadding": 50}}, "y": {"field": "y", "type": "quantitative", "scale": {"domain": [-0.46, 12.41], "nice": false, "zero": false}, "axis": {"title": "Observed", "values": [0, 2, 4, 6, 8, 10, 12]}}}},
            {"data": {"name": "start"}, "mark": {"type": "line", "color": "#4a4a4a", "strokeWidth": 4}, "encoding": {"x": {"field": "x", "type": "quantitative", "axis": null}, "y": {"field": "y", "type": "quantitative", "axis": {"title": "Observed", "values": [0, 2, 4, 6, 8, 10, 12]}}}},
            {"data": {"name": "qq"}, "transform": [{"filter": "datum.p === 'p8' && datum.k === 'line'"}], "mark": {"type": "line", "color": "#000000", "strokeWidth": 4.5, "strokeCap": "round", "strokeJoin": "round"}, "encoding": {"x": {"field": "x", "type": "quantitative", "axis": {"orient": "bottom", "title": "Expected", "values": [0, 2, 4, 6, 8]}}, "y": {"field": "y", "type": "quantitative", "axis": {"title": "Observed", "values": [0, 2, 4, 6, 8, 10, 12]}}}},
            {"data": {"name": "qq"}, "transform": [{"filter": "datum.p === 'p8' && datum.k === 'pt'"}], "mark": {"type": "point", "filled": false, "color": "#707070", "size": 16, "strokeWidth": 0.8, "opacity": 1}, "encoding": {"x": {"field": "x", "type": "quantitative", "axis": null}, "y": {"field": "y", "type": "quantitative", "axis": {"title": "Observed", "values": [0, 2, 4, 6, 8, 10, 12]}}}}
          ]
        }
      ]
    }
  ]
}
